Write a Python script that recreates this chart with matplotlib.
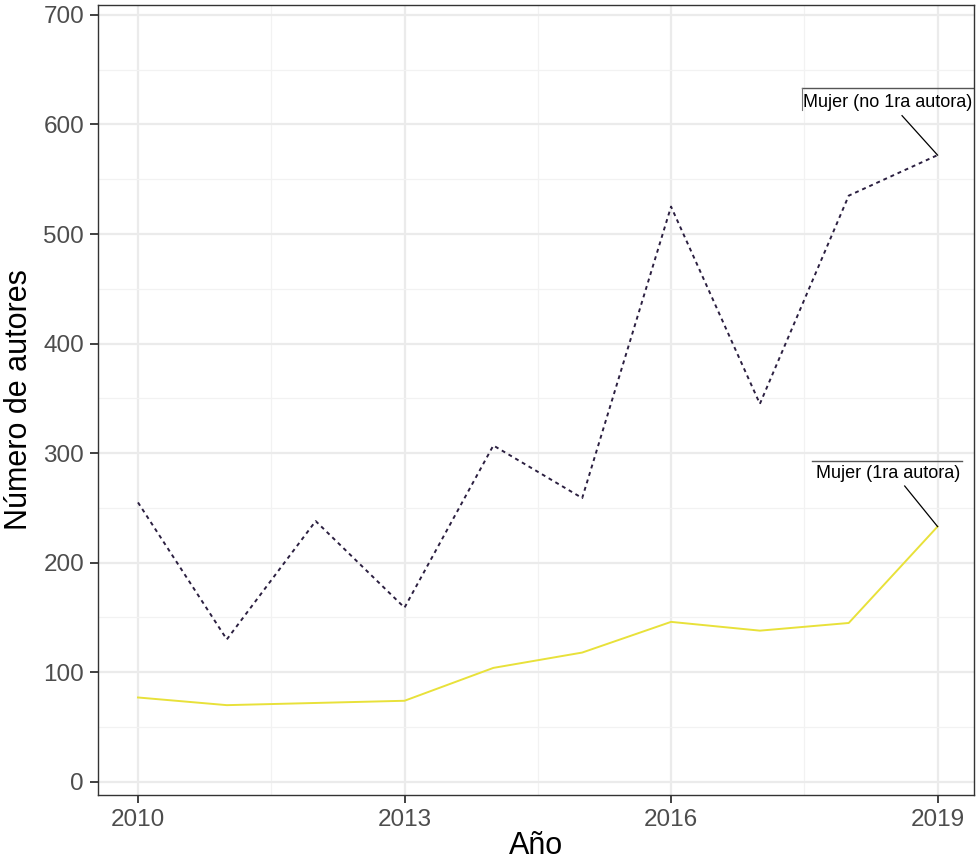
import matplotlib
matplotlib.use("Agg")
import matplotlib.pyplot as plt
from matplotlib.ticker import MultipleLocator

plt.rcParams['font.family'] = ['Liberation Sans', 'DejaVu Sans']

years = [2010, 2011, 2012, 2013, 2014, 2015, 2016, 2017, 2018, 2019]
no_primera = [255, 130, 238, 159, 307, 259, 525, 345, 535, 572]
primera = [77, 70, 72, 74, 104, 118, 146, 138, 145, 233]
label_no = "Mujer (no 1ra autora)"
label_si = "Mujer (1ra autora)"

fig = plt.figure(figsize=(9.76, 8.61), dpi=100)
ax = fig.add_axes([98 / 976, 66 / 861, 876 / 976, 790 / 861])

ax.plot(years, no_primera, color='#2b1f40', linewidth=1.4, linestyle=(0, (2, 2)))
ax.plot(years, primera, color='#e8e13a', linewidth=1.4)

ax.set_xlim(2009.55, 2019.41)
ax.set_ylim(-12, 709)
ax.xaxis.set_major_locator(MultipleLocator(3))
ax.xaxis.set_minor_locator(MultipleLocator(1.5))
ax.yaxis.set_major_locator(MultipleLocator(100))
ax.yaxis.set_minor_locator(MultipleLocator(50))
ax.grid(True, which='major', color='#ebebeb', linewidth=1.6)
ax.grid(True, which='minor', color='#f2f2f2', linewidth=0.9)
ax.set_axisbelow(True)
ax.tick_params(which='minor', length=0)
ax.tick_params(which='major', length=6, width=1.3, color='#333333',
               labelsize=17.5, labelcolor='#4d4d4d', pad=4)
for s in ax.spines.values():
    s.set_color('#333333')
    s.set_linewidth(1.0)

ax.set_xlabel("Año", fontsize=22, labelpad=0)
ax.set_ylabel("Número de autores", fontsize=22, labelpad=7)

# etiquetas tipo ggrepel
ax.text(2018.44, 620, label_no, fontsize=13, ha='center', va='center', color='black')
ax.plot([2017.47, 2019.41], [633, 633], color='#555555', linewidth=1.0)
ax.plot([2017.47, 2017.47], [633, 613], color='#777777', linewidth=0.8)
ax.plot([2018.6, years[-1]], [608, no_primera[-1]], color='black', linewidth=0.9)

ax.text(2018.44, 281, label_si, fontsize=13, ha='center', va='center', color='black')
ax.plot([2017.59, 2019.28], [293, 293], color='#555555', linewidth=1.0)
ax.plot([2018.63, years[-1]], [270, primera[-1]], color='black', linewidth=0.9)

fig.savefig("out.png", dpi=100)
